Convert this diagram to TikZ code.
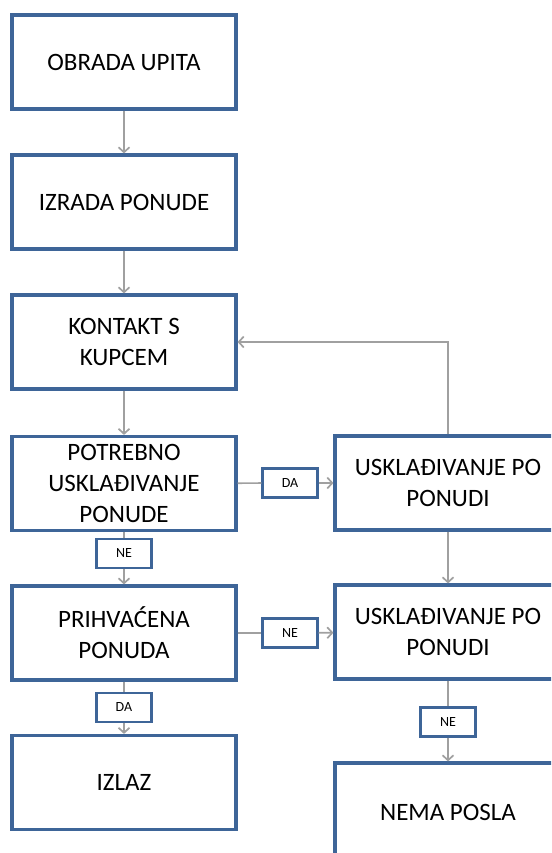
\documentclass[tikz,border=0pt]{standalone}
\usepackage{fontspec}
\setmainfont{Carlito}
\usetikzlibrary{arrows.meta}
\definecolor{boxblue}{HTML}{3E6598}
\definecolor{linegray}{HTML}{A0A0A0}
\begin{document}
\begin{tikzpicture}[x = 1pt, y = -1pt,
        block/.style = {draw = boxblue, line width = 3.2pt, fill = white, rectangle, minimum width = 224pt, minimum height = 94pt, align = center, font = \fontsize{25}{31}\selectfont, inner sep = 0pt},
        answer/.style = {draw = boxblue, line width = 2.4pt, fill = white, rectangle, minimum width = 55pt, minimum height = 29pt, font = \fontsize{14}{14}\selectfont, inner sep = 0pt},
        link/.style = {draw = linegray, line width = 1.7pt},
        >={Straight Barb[length = 5pt, width = 11pt]}]
        \clip (0,0) rectangle (551,853);
        \fill[white] (0,0) rectangle (551,853);
        % left column
        \node[block] (obrada) at (124,62) {OBRADA UPITA};
        \node[block] (izrada) at (124,202) {IZRADA PONUDE};
        \node[block] (kontakt) at (124,342) {KONTAKT S\\KUPCEM};
        \node[block] (potrebno) at (124,483.5) {POTREBNO\\USKLAĐIVANJE\\PONUDE};
        \node[block] (prihvacena) at (124,633) {PRIHVAĆENA\\PONUDA};
        \node[block] (izlaz) at (124,782.5) {IZLAZ};
        % right column
        \node[block, minimum width = 226pt] (uskladjivanje) at (448,483) {USKLAĐIVANJE PO\\PONUDI};
        \node[block, minimum width = 226pt] (uskladjivanje2) at (448,632) {USKLAĐIVANJE PO\\PONUDI};
        \node[block, minimum width = 226pt, minimum height = 98pt] (nema) at (448,812) {NEMA POSLA};
        % answers
        \node[answer] (da1) at (290,483) {DA};
        \node[answer] (ne1) at (124,553.5) {NE};
        \node[answer] (ne2) at (290,633) {NE};
        \node[answer] (da2) at (124,707.5) {DA};
        \node[answer] (ne3) at (448,722) {NE};
        % connectors
        \draw[link, ->] (obrada) -- (izrada);
        \draw[link, ->] (izrada) -- (kontakt);
        \draw[link, ->] (kontakt) -- (potrebno);
        \draw[link] (potrebno) -- (ne1);
        \draw[link, ->] (ne1) -- (prihvacena);
        \draw[link] (prihvacena) -- (da2);
        \draw[link, ->] (da2) -- (izlaz);
        \draw[link] (potrebno) -- (da1);
        \draw[link, ->] (da1) -- (uskladjivanje);
        \draw[link] (prihvacena) -- (ne2);
        \draw[link, ->] (ne2) -- (uskladjivanje2);
        \draw[link, ->] (uskladjivanje) -- (uskladjivanje2);
        \draw[link] (uskladjivanje2) -- (ne3);
        \draw[link, ->] (ne3) -- (nema);
        \draw[link, ->] (uskladjivanje.north) |- (kontakt.east);
\end{tikzpicture}
\end{document}
